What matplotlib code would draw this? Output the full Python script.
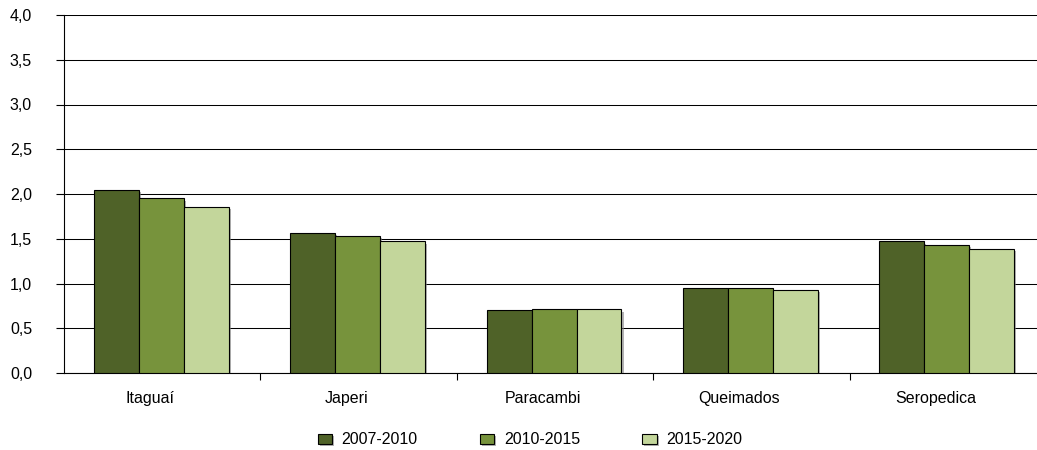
import matplotlib
matplotlib.use("Agg")
import matplotlib.pyplot as plt
import matplotlib.patheffects as pe
import matplotlib.transforms as mtransforms
import numpy as np

categories = ["Itaguaí", "Japeri", "Paracambi", "Queimados", "Seropedica"]
series_names = ["2007-2010", "2010-2015", "2015-2020"]
s2007_2010 = [2.05, 1.56, 0.70, 0.95, 1.47]
s2010_2015 = [1.95, 1.53, 0.71, 0.95, 1.43]
s2015_2020 = [1.86, 1.47, 0.71, 0.93, 1.39]
y_ticks = [0.0, 0.5, 1.0, 1.5, 2.0, 2.5, 3.0, 3.5, 4.0]

colors = ["#4F6228", "#77933C", "#C3D69B"]

plt.rcParams['font.family'] = ['Liberation Sans', 'DejaVu Sans']
FS = 11.5

W, H = 1037, 450
fig = plt.figure(figsize=(W / 100, H / 100), dpi=100)
left_px, right_px, top_px, bot_px = 64, 1046, 15, 373
ax = fig.add_axes([left_px / W, 1 - bot_px / H, (right_px - left_px) / W, (bot_px - top_px) / H])

x = np.arange(len(categories))
w = 0.229
shadow = [pe.SimplePatchShadow(offset=(1.5, -1.5), shadow_rgbFace="#808080", alpha=0.6), pe.Normal()]
for i, (vals, name) in enumerate(zip([s2007_2010, s2010_2015, s2015_2020], series_names)):
    ax.bar(x - 0.005 + (i - 1) * w, vals, width=w, color=colors[i], edgecolor="black",
           linewidth=0.8, label=name, zorder=3, path_effects=shadow)

ax.set_xlim(-0.5, len(categories) - 0.5)
ax.set_ylim(0, 4.0)
ax.set_yticks(y_ticks)
ax.set_yticklabels([f"{v:.1f}".replace(".", ",") for v in y_ticks], fontsize=FS)
ax.yaxis.grid(True, color="black", linewidth=0.75, zorder=0)
ax.set_axisbelow(True)

ax.set_xticks(x)
ax.set_xticklabels(categories, fontsize=FS)
ax.tick_params(axis="x", length=0, pad=13)
offset = mtransforms.ScaledTranslation(-12 / 100, 0, fig.dpi_scale_trans)
for lab in ax.get_xticklabels():
    lab.set_transform(lab.get_transform() + offset)
ax.set_xticks(np.arange(0.5, len(categories) - 1, 1.0), minor=True)
ax.tick_params(axis="x", which="minor", length=5, width=0.8, direction="out")
ax.tick_params(axis="y", length=6, width=0.8, direction="out", pad=17)

for s in ["top", "right"]:
    ax.spines[s].set_visible(False)
ax.spines["left"].set_linewidth(0.8)
ax.spines["bottom"].set_linewidth(0.8)

fig.legend(loc="center", bbox_to_anchor=(530 / W, 1 - 440 / H), ncol=3, frameon=False,
           fontsize=FS, handlelength=0.9, handleheight=0.6, columnspacing=3.9,
           handletextpad=0.6)

fig.savefig("out.png", dpi=100)
